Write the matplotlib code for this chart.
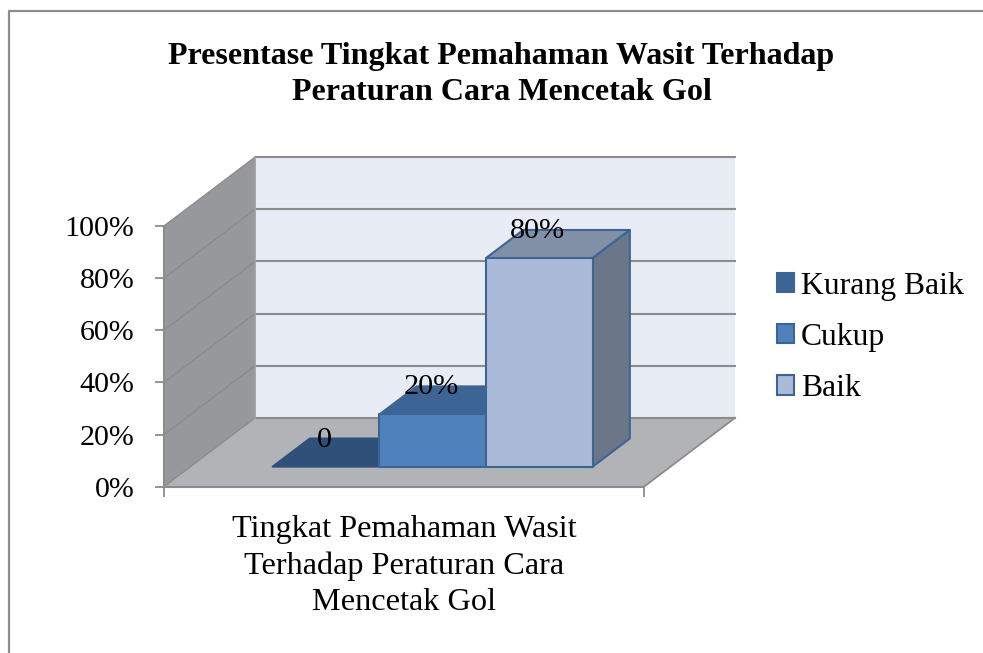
import matplotlib
matplotlib.use("Agg")
import matplotlib.pyplot as plt
from matplotlib.lines import Line2D
from matplotlib.patches import Patch

title = "Presentase Tingkat Pemahaman Wasit Terhadap\nPeraturan Cara Mencetak Gol"
category = "Tingkat Pemahaman Wasit\nTerhadap Peraturan Cara\nMencetak Gol"
series = ["Kurang Baik", "Cukup", "Baik"]
values = [0, 20, 80]
value_labels = ["0", "20%", "80%"]
y_ticks = [0, 20, 40, 60, 80, 100]
y_tick_labels = ["0%", "20%", "40%", "60%", "80%", "100%"]

front_colors = ["#3c6494", "#4f81bd", "#aabbd9"]
top_colors = ["#2f5179", "#3c6494", "#8290a7"]
side_colors = ["#2f5179", "#3c6494", "#6b7689"]
legend_colors = ["#3c6494", "#4f81bd", "#aabbd9"]
edge = "#3d6594"
grid = "#8c8c8c"

W, H = 983, 653
plt.rcParams["font.family"] = ["Liberation Serif", "DejaVu Serif"]

fig = plt.figure(figsize=(W / 100, H / 100), dpi=100)
ax = fig.add_axes([164 / W, (H - 486.7) / H, 480 / W, 260.7 / H])
ax.set_xlim(0, 4.5)
ax.set_ylim(0, 100)
ax.patch.set_visible(False)

# oblique depth: d=0 front plane, d=1 back wall
DX = 91.0 / (480 / 4.5)
DY = 68.8 / 2.607
def proj(x, v, d):
    return x + d * DX, v + d * DY

def face(pts, color, ec="none", z=1, lw=1.5):
    xy = [proj(*p) for p in pts]
    ax.fill([p[0] for p in xy], [p[1] for p in xy], fc=color, ec=ec, lw=lw, zorder=z,
            clip_on=False, joinstyle="round")

# walls and floor
face([(0, 0, 1), (4.5, 0, 1), (4.5, 100, 1), (0, 100, 1)], "#e8ecf5", z=1)
face([(0, 0, 0), (0, 0, 1), (0, 100, 1), (0, 100, 0)], "#97989b", z=1)
face([(0, 0, 0), (4.5, 0, 0), (4.5, 0, 1), (0, 0, 1)], "#b1b3b6", z=1)

for t in y_ticks:
    a = proj(0, t, 0)
    b = proj(0, t, 1)
    c = proj(4.5, t, 1)
    ax.plot([a[0], b[0]], [a[1], b[1]], color=grid, lw=1.0, zorder=2, clip_on=False)
    ax.plot([b[0], c[0]], [b[1], c[1]], color=grid, lw=1.5, zorder=2, clip_on=False)
a = proj(4.5, 0, 0)
b = proj(4.5, 0, 1)
ax.plot([a[0], b[0]], [a[1], b[1]], color=grid, lw=1.3, zorder=2, clip_on=False)
a = proj(0, 0, 1)
b = proj(0, 100, 1)
ax.plot([a[0], b[0]], [a[1], b[1]], color="#a0a0a0", lw=1.3, zorder=2, clip_on=False)

# bars
d0, d1 = 0.292, 0.70
for i, v in enumerate(values):
    x0 = 0.77 + i
    x1 = x0 + 1
    ec = edge if v > 0 else top_colors[i]
    z = 3 + i
    face([(x0, v, d0), (x1, v, d0), (x1, v, d1), (x0, v, d1)], top_colors[i], ec, z)
    if v > 0:
        face([(x1, 0, d0), (x1, 0, d1), (x1, v, d1), (x1, v, d0)], side_colors[i], ec, z)
        face([(x0, 0, d0), (x1, 0, d0), (x1, v, d0), (x0, v, d0)], front_colors[i], ec, z)
    ax.annotate(value_labels[i], xy=proj(x0 + 0.5, v, d0), xytext=(-1.1, 19.5),
                textcoords="offset points", ha="center", va="center", fontsize=21.8,
                color="black", zorder=10, annotation_clip=False)

# axis
for s in ("top", "right"):
    ax.spines[s].set_visible(False)
for s in ("left", "bottom"):
    ax.spines[s].set_color(grid)
    ax.spines[s].set_linewidth(1.5)
    ax.spines[s].set_zorder(2.5)
ax.set_yticks(y_ticks, y_tick_labels, fontsize=21.6)
ax.tick_params(axis="y", length=6.5, width=1.3, color=grid, pad=15)
ax.set_xticks([0, 4.5], ["", ""])
ax.tick_params(axis="x", which="major", length=7, width=1.3, color=grid)
ax.set_xticks([2.25], [category], minor=True, fontsize=23.2, linespacing=1.33, ha="center")
ax.tick_params(axis="x", which="minor", length=0, pad=20.5)

fig.text(501.5 / W, 1 - 74.5 / H, title, ha="center", va="center", fontsize=23.1,
         fontweight="bold", linespacing=1.28)

handles = [Patch(fc=c, ec=edge, lw=1.5) for c in legend_colors]
fig.legend(handles, series, loc="center left", bbox_to_anchor=(777 / W, 1 - 337.5 / H),
           frameon=False, fontsize=22.8, handlelength=0.55, handleheight=0.55,
           handletextpad=0.2, labelspacing=0.7, borderpad=0, borderaxespad=0)

# outer frame, cut off by the picture on the right and bottom
fig.add_artist(Line2D([8.5 / W, 8.5 / W, 1], [0, 1 - 10.5 / H, 1 - 10.5 / H], color="#8c8c8c", lw=1.6))

fig.savefig("out.png", dpi=100)
